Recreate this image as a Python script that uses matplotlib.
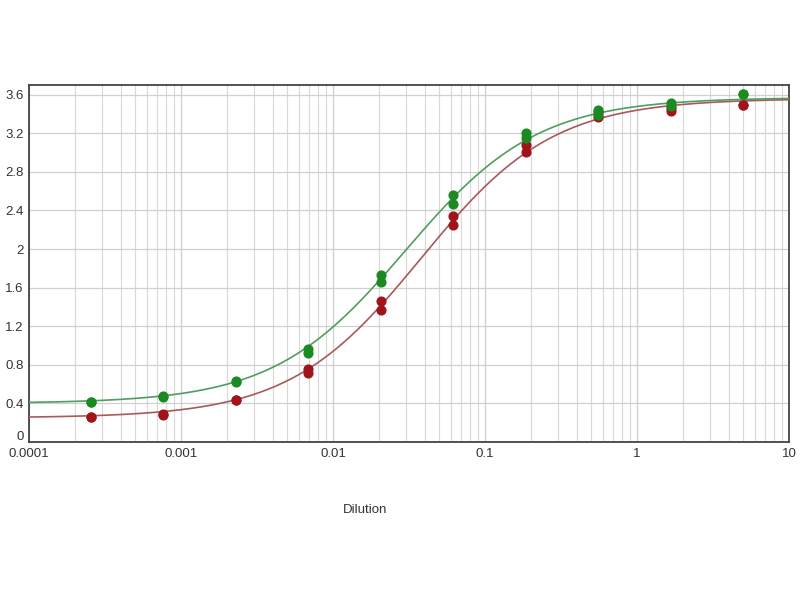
import numpy as np
import matplotlib
matplotlib.use("Agg")
import matplotlib.pyplot as plt
import matplotlib.transforms as mtransforms
from matplotlib.ticker import FixedLocator, LogLocator, NullFormatter

plt.rcParams['font.family'] = ['Liberation Sans', 'DejaVu Sans']

# Dilutions (x)
dilution = [0.000254, 0.000762, 0.00229, 0.00686, 0.0206, 0.0617, 0.185, 0.556, 1.667, 5.0]

# Replicate values
green_rep1 = [0.41, 0.48, 0.63, 0.96, 1.73, 2.56, 3.20, 3.44, 3.51, 3.61]
green_rep2 = [0.41, 0.47, 0.62, 0.92, 1.66, 2.47, 3.15, 3.39, 3.48, 3.61]
red_rep1 = [0.26, 0.29, 0.44, 0.76, 1.46, 2.34, 3.08, 3.42, 3.46, 3.49]
red_rep2 = [0.26, 0.28, 0.44, 0.72, 1.37, 2.25, 3.01, 3.37, 3.43, 3.49]

# 4PL fit parameters (bottom, top, EC50, hill)
green_fit = dict(bottom=0.40, top=3.57, ec50=0.030, hill=1.0)
red_fit = dict(bottom=0.25, top=3.56, ec50=0.038, hill=1.0)

y_ticks = [0, 0.4, 0.8, 1.2, 1.6, 2, 2.4, 2.8, 3.2, 3.6]
y_tick_labels = ["0", "0.4", "0.8", "1.2", "1.6", "2", "2.4", "2.8", "3.2", "3.6"]
x_ticks = [0.0001, 0.001, 0.01, 0.1, 1, 10]
x_tick_labels = ["0.0001", "0.001", "0.01", "0.1", "1", "10"]


def four_pl(x, p):
    return p['bottom'] + (p['top'] - p['bottom']) / (1 + (p['ec50'] / x) ** p['hill'])


fig = plt.figure(figsize=(8, 6), dpi=100)
ax = fig.add_axes([29/800, 1 - 442/600, 760/800, 357/600])

xs = np.logspace(-4, 1, 400)
ax.plot(xs, four_pl(xs, red_fit), color='#a85a5a', lw=1.2, zorder=3)
ax.plot(xs, four_pl(xs, green_fit), color='#4f9e5f', lw=1.2, zorder=3)

for rep in (red_rep1, red_rep2):
    ax.plot(dilution, rep, 'o', color='#a0141a', ms=6.3, mec='#a0141a', zorder=4)
for rep in (green_rep1, green_rep2):
    ax.plot(dilution, rep, 'o', color='#1b8a22', ms=6.3, mec='#1b8a22', zorder=5)

ax.set_xscale('log')
ax.set_xlim(0.0001, 10)
ax.set_ylim(0, 3.70)
ax.xaxis.set_major_locator(FixedLocator(x_ticks))
ax.set_xticklabels(x_tick_labels)
ax.xaxis.set_minor_locator(LogLocator(base=10, subs=np.arange(2, 10), numticks=20))
ax.xaxis.set_minor_formatter(NullFormatter())
ax.set_yticks(y_ticks)
ax.set_yticklabels(y_tick_labels)

ax.grid(True, which='major', color='#d0d0d0', lw=0.9)
ax.grid(True, which='minor', axis='x', color='#d8d8d8', lw=0.8)
ax.set_axisbelow(True)
ax.tick_params(which='both', length=0, labelsize=9.5, colors='#333333', pad=4)
for s in ax.spines.values():
    s.set_color('#444444')
    s.set_linewidth(1.3)

# lift the "0" y label slightly so it does not collide with "0.0001"
zero_lbl = ax.get_yticklabels()[0]
zero_lbl.set_transform(zero_lbl.get_transform() +
                       mtransforms.ScaledTranslation(0, 6/100, fig.dpi_scale_trans))

fig.text(365/800, 1 - 510/600, 'Dilution', ha='center', va='center', fontsize=9.5, color='#333333')

fig.savefig('out.png', dpi=100)
